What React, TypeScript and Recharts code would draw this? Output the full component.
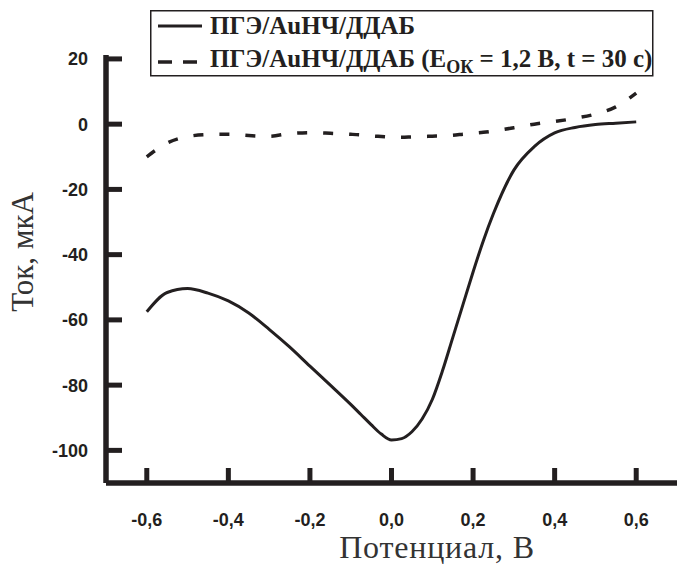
import React from "react";
import { LineChart, Line, XAxis, YAxis, Legend } from "recharts";

// потенциал, В
const potential = [
  -0.6, -0.55, -0.5, -0.45, -0.4, -0.35, -0.3, -0.25, -0.2, -0.15, -0.1, -0.075, -0.05, -0.025, 0,
  0.025, 0.05, 0.075, 0.1, 0.125, 0.15, 0.175, 0.2, 0.225, 0.25, 0.3, 0.35, 0.4, 0.45, 0.5, 0.55, 0.6,
];

// ПГЭ/AuНЧ/ДДАБ
const currentBase = [
  -57.5, -51.6, -50.4, -51.8, -54.2, -57.9, -62.9, -68.3, -74.2, -80.0, -85.9, -89.0, -92.1, -95.0, -96.8,
  -96.4, -94.3, -90.4, -84.4, -75.6, -65.5, -55.4, -45.3, -35.8, -27.4, -14.1, -6.9, -2.7, -1.0, -0.1, 0.3, 0.7,
];

// ПГЭ/AuНЧ/ДДАБ (E ок = 1,2 В, t = 30 с)
const currentOxidized = [
  -10.0, -5.8, -3.8, -3.2, -3.1, -3.5, -3.7, -2.9, -2.6, -2.8, -3.1, -3.3, -3.6, -3.8, -4.0,
  -4.0, -3.9, -3.8, -3.7, -3.6, -3.4, -3.1, -2.8, -2.5, -2.1, -1.1, 0.0, 0.8, 1.8, 3.1, 5.3, 9.5,
];

const xTicks = [-0.6, -0.4, -0.2, 0, 0.2, 0.4, 0.6];
const yTicks = [20, 0, -20, -40, -60, -80, -100];

const data = potential.map((x, i) => ({
  x,
  base: currentBase[i],
  oxidized: currentOxidized[i],
}));

const INK = "#231f20";
const TICK_FONT = '"Liberation Sans", Arial, sans-serif';
const SERIF = '"Liberation Serif", "Times New Roman", serif';

const XTick = (props: any) => {
  const { x, y, payload } = props;
  return (
    <g>
      <line x1={x} y1={y} x2={x} y2={y - 15} stroke={INK} strokeWidth={5} />
      <text
        x={x}
        y={y + 43}
        textAnchor="middle"
        fontFamily={TICK_FONT}
        fontWeight="bold"
        fontSize={18}
        fill={INK}
      >
        {payload.value.toFixed(1).replace(".", ",")}
      </text>
    </g>
  );
};

const YTick = (props: any) => {
  const { x, y, payload } = props;
  return (
    <g>
      <line x1={x} y1={y} x2={x + 16} y2={y} stroke={INK} strokeWidth={5} />
      <text
        x={x - 18}
        y={y}
        dy="0.36em"
        textAnchor="end"
        fontFamily={TICK_FONT}
        fontWeight="bold"
        fontSize={18}
        fill={INK}
      >
        {String(payload.value)}
      </text>
    </g>
  );
};

const YTitle = () => (
  <text
    x={33}
    y={252}
    transform="rotate(-90 33 252)"
    textAnchor="middle"
    fontFamily={SERIF}
    fontSize={31}
    fill="#333"
  >
    Ток, мкА
  </text>
);

const XTitle = () => (
  <text
    x={437}
    y={558}
    textAnchor="middle"
    fontFamily={SERIF}
    fontSize={32}
    letterSpacing={0.8}
    fill="#333"
  >
    Потенциал, В
  </text>
);

const LegendBox = () => (
  <svg width={504} height={67} style={{ display: "block" }}>
    <rect x={0.75} y={0.75} width={502} height={65} fill="#fff" stroke={INK} strokeWidth={1.5} />
    <line x1={8} y1={16} x2={52} y2={16} stroke={INK} strokeWidth={3} />
    <text x={60} y={24} fontFamily={SERIF} fontWeight="bold" fontSize={25} fill={INK}>
      ПГЭ/AuНЧ/ДДАБ
    </text>
    <line x1={8} y1={52} x2={52} y2={52} stroke={INK} strokeWidth={3.5} strokeDasharray="14 11" />
    <text x={60} y={57} fontFamily={SERIF} fontWeight="bold" fontSize={25} fill={INK}>
      ПГЭ/AuНЧ/ДДАБ (E
      <tspan fontSize={18} dy={6}>ОК</tspan>
      <tspan dy={-6}> = 1,2 В, t = 30 с)</tspan>
    </text>
  </svg>
);

export default function App() {
  return (
    <div style={{ position: "absolute", left: 0, top: 0, width: 677, height: 564, background: "#fff" }}>
      <LineChart
        width={677}
        height={564}
        data={data}
        margin={{ top: 55, right: 0, bottom: 0, left: 0 }}
      >
        <XAxis
          type="number"
          dataKey="x"
          domain={[-0.7, 0.7]}
          ticks={xTicks}
          interval={0}
          allowDataOverflow
          height={81}
          tickSize={0}
          tickMargin={0}
          tickLine={false}
          axisLine={{ stroke: INK, strokeWidth: 5.5 }}
          tick={<XTick />}
          label={<XTitle />}
        />
        <YAxis
          type="number"
          domain={[-110, 21.2]}
          ticks={yTicks}
          interval={0}
          allowDataOverflow
          width={106}
          tickSize={0}
          tickMargin={0}
          tickLine={false}
          axisLine={{ stroke: INK, strokeWidth: 5.5 }}
          tick={<YTick />}
          label={<YTitle />}
        />
        <Legend
          layout="horizontal"
          verticalAlign="middle"
          align="center"
          wrapperStyle={{ position: "absolute", left: 150, top: 10, width: "auto", height: "auto" }}
          content={() => <LegendBox />}
        />
        <Line
          type="monotone"
          dataKey="base"
          stroke={INK}
          strokeWidth={3}
          dot={false}
          isAnimationActive={false}
        />
        <Line
          type="monotone"
          dataKey="oxidized"
          stroke={INK}
          strokeWidth={3.5}
          strokeDasharray="10 16"
          dot={false}
          isAnimationActive={false}
        />
      </LineChart>
    </div>
  );
}
